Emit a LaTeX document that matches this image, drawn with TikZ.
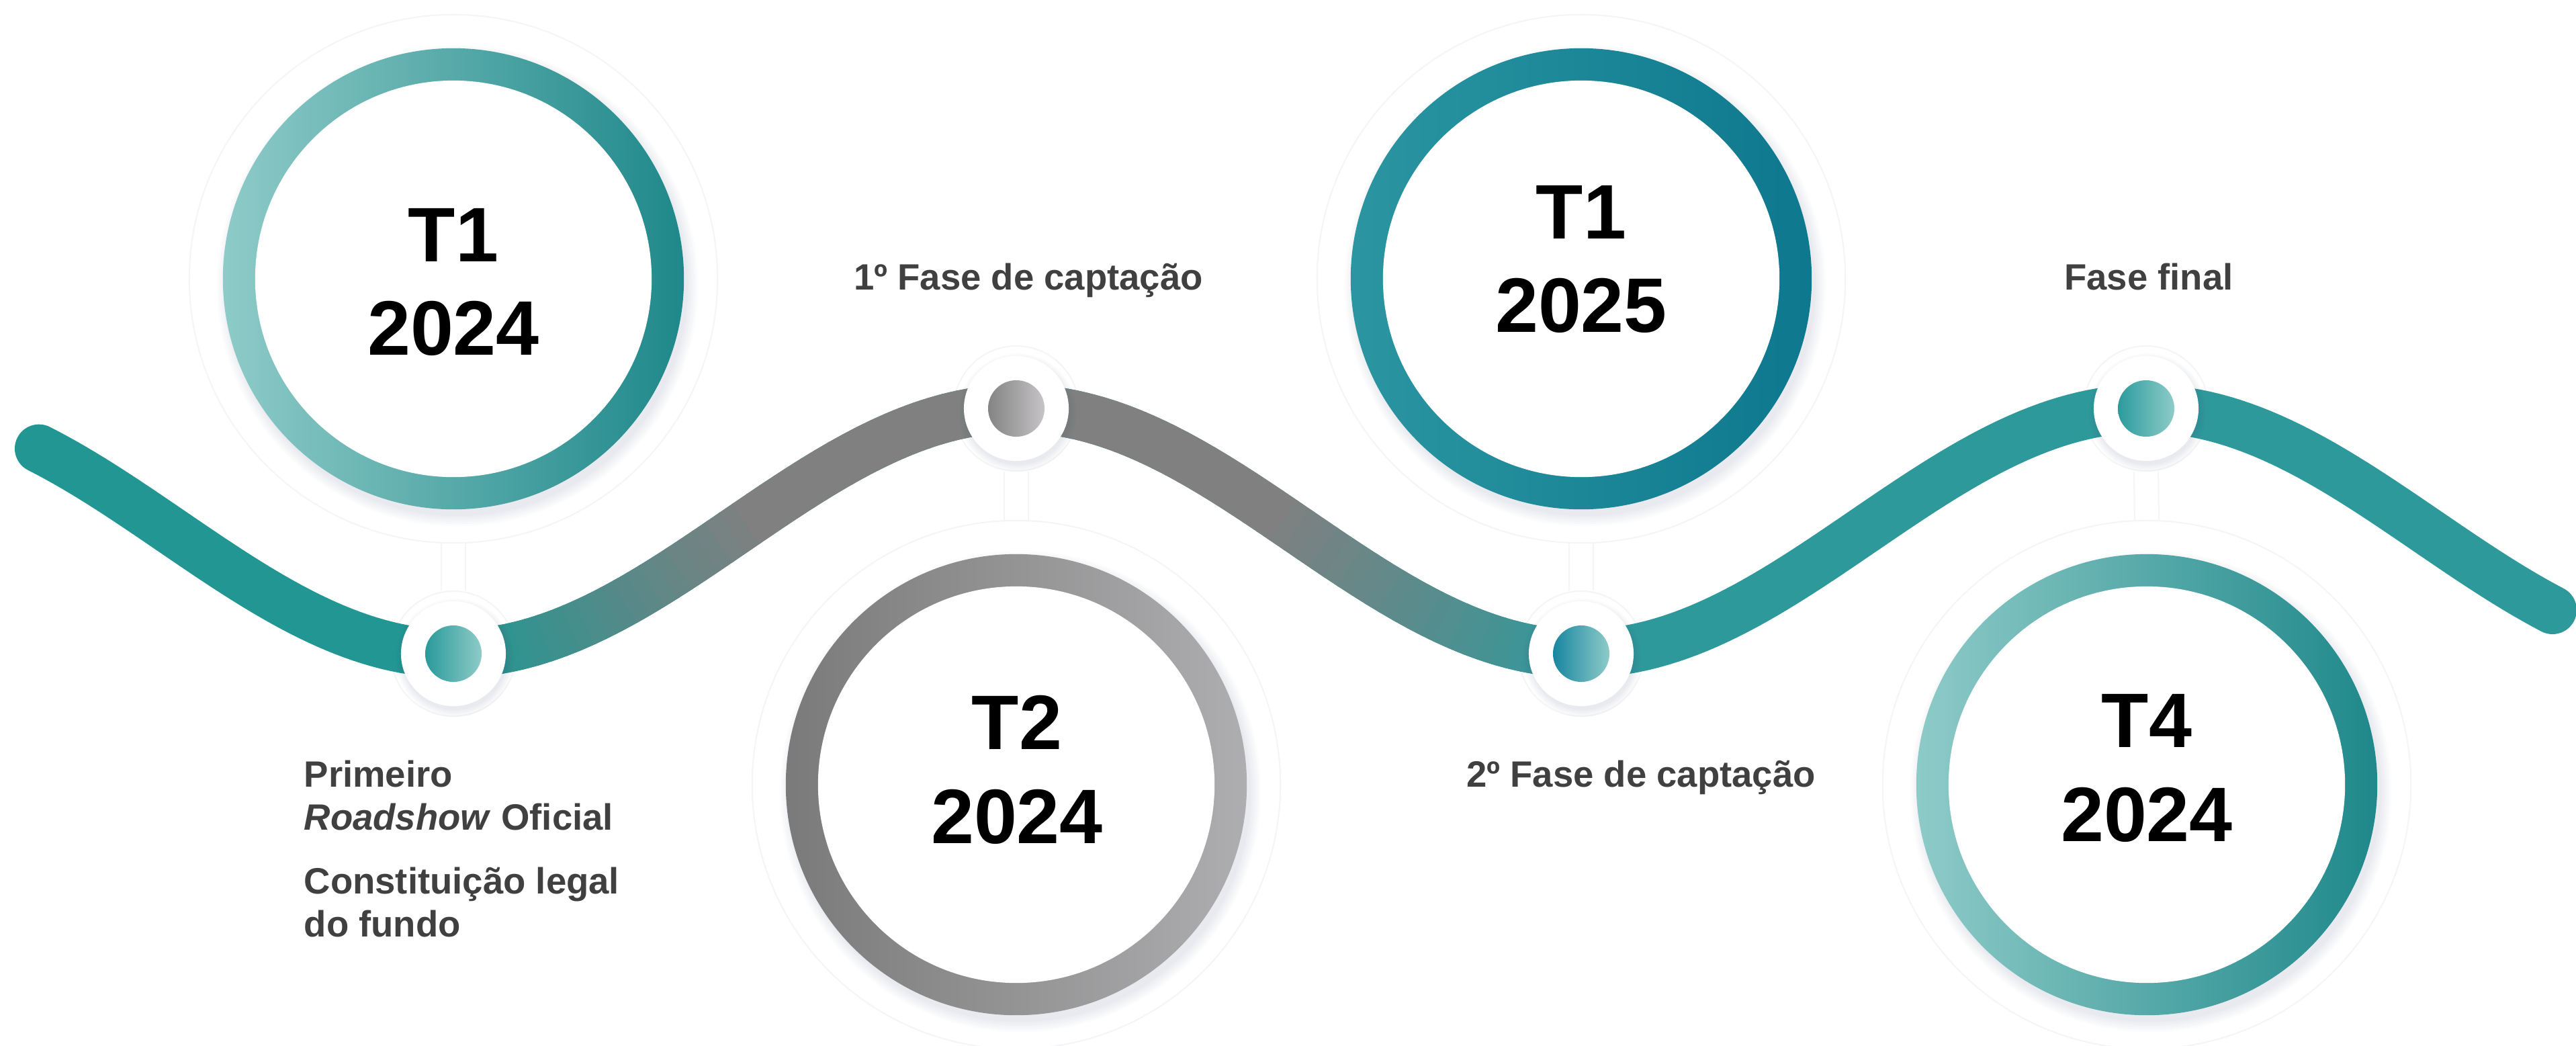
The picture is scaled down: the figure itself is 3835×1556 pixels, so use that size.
\documentclass[tikz,border=0pt]{standalone}
\usepackage{fontspec}
\setmainfont{Liberation Sans}
\usetikzlibrary{positioning, calc}

\definecolor{wayteal}{RGB}{34, 150, 146}
\definecolor{tealright}{RGB}{46, 153, 155}
\definecolor{waygray}{RGB}{128, 128, 128}
\definecolor{teallight}{RGB}{142, 203, 200}
\definecolor{tealdeep}{RGB}{31, 136, 138}
\definecolor{bluemid}{RGB}{43, 150, 161}
\definecolor{bluedeep}{RGB}{13, 120, 142}
\definecolor{graydark}{RGB}{122, 122, 122}
\definecolor{graylight}{RGB}{174, 174, 176}
\definecolor{labelgray}{RGB}{64, 64, 64}
\definecolor{haloline}{RGB}{245, 245, 247}
\definecolor{shadowblue}{RGB}{70, 80, 120}

\newcommand{\wavey}[1]{790.5+182.5*cos((#1-675)*0.214413)}

\tikzset{
  ring/.style={circle, inner sep=0pt, minimum size=6.86cm, shading angle=-45},
  disc/.style={circle, inner sep=0pt, fill=white, minimum size=5.9cm},
  halo/.style={circle, inner sep=0pt, draw=haloline, line width=0.6pt, minimum size=7.86cm},
  dothalo/.style={circle, inner sep=0pt, draw=haloline, line width=0.6pt, minimum size=1.86cm},
  dotdisc/.style={circle, inner sep=0pt, fill=white, minimum size=1.56cm},
  dot/.style={circle, inner sep=0pt, minimum size=0.84cm, shading angle=-45},
  link/.style={draw=haloline, line width=0.6pt, double=white, double distance=0.34cm},
  yeartext/.style={inner sep=0pt, align=center, font=\fontsize{32.7}{39.8}\selectfont\bfseries},
  phasetext/.style={inner sep=0pt, text=labelgray, font=\fontsize{15.5}{18.2}\selectfont\bfseries},
}

\begin{document}
\begin{tikzpicture}[x=0.01cm, y=-0.01cm]
  \useasboundingbox (0,0) rectangle (3835,1556);

  % Halos
  \node[halo] (h1) at (675,415) {};
  \node[halo] (h2) at (1513,1168) {};
  \node[halo] (h3) at (2354,415) {};
  \node[halo] (h4) at (3196,1168) {};
  \node[dothalo] (hd1) at (675,973) {};
  \node[dothalo] (hd2) at (1513,608) {};
  \node[dothalo] (hd3) at (2354,973) {};
  \node[dothalo] (hd4) at (3195,608) {};

  % Links
  \draw[link] (h1.south) -- (hd1.north);
  \draw[link] (h2.north) -- (hd2.south);
  \draw[link] (h3.south) -- (hd3.north);
  \draw[link] (h4.north) -- (hd4.south);

  % Wave
  \draw[wayteal, line width=0.72cm, line cap=round] plot[domain=58:1600, samples=120] (\x, {\wavey{\x}});
  \draw[tealright, line width=0.72cm, line cap=round] plot[domain=1580:3800, samples=160] (\x, {\wavey{\x}});
  \foreach \a in {690,710,...,2350} {
    \pgfmathsetmacro\b{\a+23}
    \pgfmathsetmacro\g{100*max(0,min(1,(\a+10-700)/420,(2350-\a-10)/450))}
    \ifdim\a pt<1600pt \colorlet{segcol}{waygray!\g!wayteal}\else\colorlet{segcol}{waygray!\g!tealright}\fi
    \draw[segcol, line width=0.72cm] plot[domain=\a:\b, samples=4] (\x, {\wavey{\x}});
  }

  % Soft shadows
  \foreach \cx/\cy in {675/415, 1513/1168, 2354/415, 3196/1168}
    \foreach \s in {0,3,...,15}
      \fill[shadowblue, opacity=0.02] ({\cx+6},{\cy+10}) circle ({3.43cm+\s*0.01cm});
  \foreach \cx/\cy in {675/973, 1513/608, 2354/973, 3195/608}
    \foreach \s in {0,2,...,10}
      \fill[shadowblue, opacity=0.02] ({\cx+2},{\cy+6}) circle ({0.78cm+\s*0.01cm});

  % Rings
  \node[ring, left color=teallight, right color=tealdeep] (r1) at (675,415) {};
  \node[ring, shading angle=-30, left color=graydark, right color=graylight] (r2) at (1513,1168) {};
  \node[ring, left color=bluemid, right color=bluedeep] (r3) at (2354,415) {};
  \node[ring, left color=teallight, right color=tealdeep] (r4) at (3196,1168) {};
  \node[disc] (c1) at (r1) {};
  \node[disc] (c2) at (r2) {};
  \node[disc] (c3) at (r3) {};
  \node[disc] (c4) at (r4) {};

  \node[yeartext] (y1) at (675,420) {T1\\2024};
  \node[yeartext] (y2) at (1514,1146) {T2\\2024};
  \node[yeartext] (y3) at (2354,386) {T1\\2025};
  \node[yeartext] (y4) at (3196,1143) {T4\\2024};

  % Milestones on the wave
  \node[dotdisc] (d1) at (675,973) {};
  \node[dotdisc] (d2) at (1513,608) {};
  \node[dotdisc] (d3) at (2354,973) {};
  \node[dotdisc] (d4) at (3195,608) {};
  \node[dot, left color={rgb,255:red,42;green,154;blue,154}, right color=teallight] (p1) at (d1) {};
  \node[dot, left color={rgb,255:red,132;green,132;blue,132}, right color={rgb,255:red,198;green,196;blue,198}] (p2) at (d2) {};
  \node[dot, left color={rgb,255:red,24;green,134;blue,160}, right color=teallight] (p3) at (d3) {};
  \node[dot, left color={rgb,255:red,44;green,155;blue,157}, right color=teallight] (p4) at (d4) {};

  % Labels
  \node[phasetext, anchor=north west, align=left] (l1a) at (452,1131) {Primeiro\\\textit{Roadshow} Oficial};
  \node[phasetext, anchor=north west, align=left] (l1b) at (452,1290) {Constituição legal\\do fundo};
  \node[phasetext, anchor=base] (l2) at (1531,431) {1º Fase de captação};
  \node[phasetext, anchor=base] (l3) at (2443,1171) {2º Fase de captação};
  \node[phasetext, anchor=base] (l4) at (3199,431) {Fase final};
\end{tikzpicture}
\end{document}
